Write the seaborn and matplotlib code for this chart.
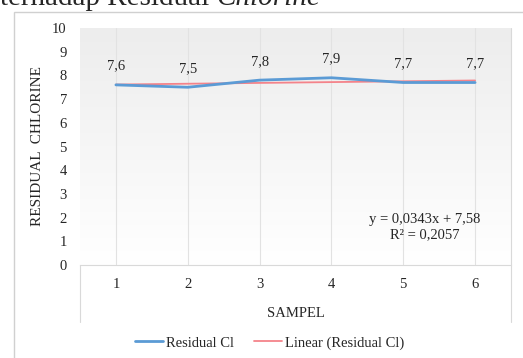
import matplotlib
matplotlib.use("Agg")
import matplotlib.pyplot as plt
import seaborn as sns
import numpy as np
import pandas as pd
from matplotlib.lines import Line2D
from matplotlib.patches import Rectangle

sampel = [1, 2, 3, 4, 5, 6]
residual_cl = [7.6, 7.5, 7.8, 7.9, 7.7, 7.7]
value_labels = ["7,6", "7,5", "7,8", "7,9", "7,7", "7,7"]
y_ticks = [0, 1, 2, 3, 4, 5, 6, 7, 8, 9, 10]

sns.set_theme(style="white")
plt.rcParams["font.family"] = ["Liberation Serif", "DejaVu Serif"]

df = pd.DataFrame({"sampel": sampel, "cl": residual_cl})
slope, intercept = np.polyfit(df["sampel"], df["cl"], 1)
df["trend"] = slope * df["sampel"] + intercept

W, H = 523, 358
fig = plt.figure(figsize=(W / 100, H / 100), dpi=100)

# caption of the document, cut off at the top edge like in the source
base_y = 1 - 5 / H
t = fig.text(0.0, base_y, "terhadap Residual ", fontsize=21, va="baseline", ha="left")
fig.canvas.draw()
bb = t.get_window_extent()
fig.text(bb.x1 / W, base_y, "Chlorine", fontsize=21, va="baseline", ha="left", style="italic")

# chart frame
fig.patches.append(Rectangle((14 / W, -0.05), 1.0, 1 - 12 / H + 0.05, transform=fig.transFigure,
                             fill=False, edgecolor="#d0d0d0", lw=1, zorder=0))

left, right, top0, bot0 = 80, 511, 28, 265
ax = fig.add_axes([left / W, 1 - bot0 / H, (right - left) / W, (bot0 - top0) / H])

# subtle gradient background
grad = np.linspace(1, 0, 256).reshape(-1, 1)
cmap = matplotlib.colors.LinearSegmentedColormap.from_list("g", ["#ffffff", "#ededed"])
ax.imshow(grad, extent=[0.5, 6.5, 0, 10], aspect="auto", cmap=cmap, zorder=0, origin="upper")

for xv in sampel:
    ax.axvline(xv, color="#e2e2e2", lw=0.8, zorder=1)

sns.lineplot(data=df, x="sampel", y="trend", ax=ax, color="#f4838a", lw=1.3, zorder=3)
sns.lineplot(data=df, x="sampel", y="cl", ax=ax, color="#5b9bd5", lw=2, zorder=4)

for xv, yv, lab in zip(sampel, residual_cl, value_labels):
    ax.annotate(lab, (xv, yv), xytext=(0, 13.5), textcoords="offset points", ha="center",
                va="center", fontsize=10.5)

ax.text(5.3, 1.6, "y = 0,0343x + 7,58\nR² = 0,2057", ha="center", va="center", fontsize=10.5,
        linespacing=1.3)

ax.set_xlim(0.5, 6.5)
ax.set_ylim(0, 10)
ax.set_xticks(sampel)
ax.set_yticks(y_ticks)
ax.tick_params(axis="both", length=0, labelsize=10.5)
ax.tick_params(axis="x", pad=9)
ax.tick_params(axis="y", pad=9.5)
ax.set_xlabel("SAMPEL", fontsize=10.5, labelpad=12)
ax.set_ylabel("RESIDUAL  CHLORINE", fontsize=11, labelpad=6)
for s in ["top", "right", "left"]:
    ax.spines[s].set_visible(False)
ax.spines["bottom"].set_color("#d9d9d9")
ax.spines["bottom"].set_linewidth(0.8)

# plot area border below axis
fig.add_artist(Line2D([left / W, left / W], [1 - bot0 / H, 1 - 322 / H], color="#d9d9d9", lw=0.8))
fig.add_artist(Line2D([right / W, right / W], [1 - top0 / H, 1 - 322 / H], color="#d9d9d9", lw=0.8))

handles = [Line2D([], [], color="#5b9bd5", lw=2), Line2D([], [], color="#f4838a", lw=1.3)]
fig.legend(handles, ["Residual Cl", "Linear (Residual Cl)"], loc="center", bbox_to_anchor=(0.515, 1 - 343 / H),
           ncol=2, frameon=False, fontsize=10.5, handlelength=1.9, handletextpad=0.2, columnspacing=1.4)

fig.savefig("out.png", dpi=100)
